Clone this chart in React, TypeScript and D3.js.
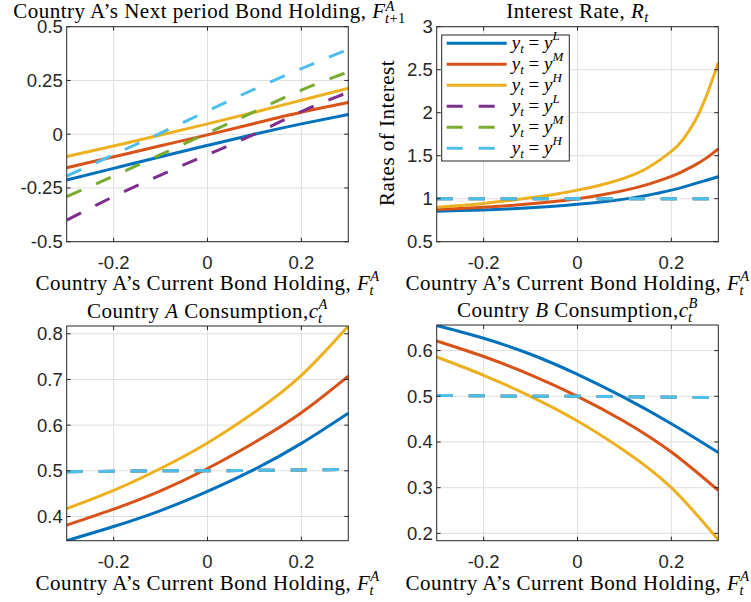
import React from 'react';
import * as d3 from 'd3';

// x grid used by most panels
const xCoarse = [-0.3, -0.2, -0.1, 0, 0.1, 0.2, 0.3];
const xRate = [-0.3, -0.25, -0.2, -0.15, -0.1, -0.05, 0, 0.05, 0.1, 0.15, 0.2, 0.225, 0.25, 0.275, 0.3];

// panel 1: next period bond holding
const bondL = [-0.213, -0.159, -0.105, -0.052, 0.0, 0.048, 0.092];
const bondM = [-0.156, -0.105, -0.054, -0.003, 0.05, 0.102, 0.147];
const bondH = [-0.104, -0.055, -0.004, 0.048, 0.102, 0.158, 0.214];
const bondL2 = [-0.4, -0.29, -0.19, -0.095, 0.0, 0.105, 0.195];
const bondM2 = [-0.29, -0.195, -0.095, 0.005, 0.105, 0.205, 0.29];
const bondH2 = [-0.195, -0.095, 0.005, 0.108, 0.21, 0.305, 0.395];

// panel 2: interest rate
const rateL = [0.855, 0.862, 0.87, 0.881, 0.895, 0.913, 0.935, 0.962, 0.995, 1.04, 1.1, 1.135, 1.175, 1.215, 1.255];
const rateM = [0.875, 0.886, 0.9, 0.918, 0.94, 0.967, 1.0, 1.043, 1.097, 1.167, 1.26, 1.32, 1.39, 1.475, 1.58];
const rateH = [0.9, 0.92, 0.945, 0.975, 1.01, 1.05, 1.1, 1.16, 1.24, 1.36, 1.55, 1.69, 1.9, 2.2, 2.58];
const rateFlat = [1, 1, 1, 1, 1, 1, 1, 1, 1, 1, 1, 1, 1, 1, 1];

// panel 3: country A consumption
const cAL = [0.347, 0.378, 0.413, 0.455, 0.503, 0.56, 0.626];
const cAM = [0.381, 0.416, 0.456, 0.505, 0.562, 0.627, 0.707];
const cAH = [0.417, 0.457, 0.505, 0.561, 0.628, 0.709, 0.817];
const cAFlat = [0.498, 0.499, 0.5, 0.5, 0.501, 0.502, 0.503];

// panel 4: country B consumption
const cBL = [0.655, 0.627, 0.592, 0.548, 0.497, 0.44, 0.377];
const cBM = [0.621, 0.587, 0.547, 0.5, 0.445, 0.378, 0.294];
const cBH = [0.586, 0.546, 0.5, 0.446, 0.381, 0.3, 0.186];
const cBFlat = [0.502, 0.501, 0.5, 0.5, 0.499, 0.498, 0.497];

const xTicks = [-0.2, 0, 0.2];
const xTickLabels = ['-0.2', '0', '0.2'];
const bondTicks = [-0.5, -0.25, 0, 0.25, 0.5];
const bondTickLabels = ['-0.5', '-0.25', '0', '0.25', '0.5'];
const rateTicks = [0.5, 1, 1.5, 2, 2.5, 3];
const rateTickLabels = ['0.5', '1', '1.5', '2', '2.5', '3'];
const cATicks = [0.4, 0.5, 0.6, 0.7, 0.8];
const cATickLabels = ['0.4', '0.5', '0.6', '0.7', '0.8'];
const cBTicks = [0.2, 0.3, 0.4, 0.5, 0.6];
const cBTickLabels = ['0.2', '0.3', '0.4', '0.5', '0.6'];

const stateLabels = ['L', 'M', 'H', 'L', 'M', 'H'];

const BLUE = '#0072BD';
const RED = '#D95319';
const YELLOW = '#EDB120';
const PURPLE = '#7E2F8E';
const GREEN = '#77AC30';
const CYAN = '#4DBEEE';
const colors = [BLUE, RED, YELLOW, PURPLE, GREEN, CYAN];

const AXIS = '#262626';
const SERIF = '"Liberation Serif", "Times New Roman", serif';
const SANS = '"Liberation Sans", Arial, sans-serif';
const DASH = '16,16';
const LS = 0.5; // letter spacing to mimic the wider LaTeX font
const FS = 21;
const SS = 14.5;

type Series = { xs: number[]; ys: number[]; color: string; dashed: boolean };

type PanelProps = {
  id: string;
  left: number;
  right: number;
  top: number;
  bottom: number;
  yDomain: [number, number];
  yTicks: number[];
  yTickLabels: string[];
  series: Series[];
};

function Panel({ id, left, right, top, bottom, yDomain, yTicks, yTickLabels, series }: PanelProps) {
  const x = d3.scaleLinear().domain([-0.3, 0.3]).range([left, right]);
  const y = d3.scaleLinear().domain(yDomain).range([bottom, top]);
  const tl = 4;
  const line = d3
    .line<[number, number]>()
    .x((d) => x(d[0]))
    .y((d) => y(d[1]))
    .curve(d3.curveNatural);
  return (
    <g>
      <defs>
        <clipPath id={id}>
          <rect x={left} y={top} width={right - left} height={bottom - top} />
        </clipPath>
      </defs>
      <rect x={left} y={top} width={right - left} height={bottom - top} fill="#fff" />
      {xTicks.map((t) => (
        <line key={'gx' + t} x1={x(t)} x2={x(t)} y1={top} y2={bottom} stroke="#dfdfdf" strokeWidth={1} />
      ))}
      {yTicks.map((t) => (
        <line key={'gy' + t} x1={left} x2={right} y1={y(t)} y2={y(t)} stroke="#dfdfdf" strokeWidth={1} />
      ))}
      <g clipPath={`url(#${id})`}>
        {series.map((s, i) => {
          const pts = s.xs.map((v, j) => [v, s.ys[j]] as [number, number]);
          return (
            <path
              key={i}
              d={line(pts) || ''}
              fill="none"
              stroke={s.color}
              strokeWidth={3}
              strokeDasharray={s.dashed ? DASH : undefined}
            />
          );
        })}
      </g>
      {xTicks.map((t) => (
        <g key={'tx' + t}>
          <line x1={x(t)} x2={x(t)} y1={bottom} y2={bottom - tl} stroke={AXIS} />
          <line x1={x(t)} x2={x(t)} y1={top} y2={top + tl} stroke={AXIS} />
        </g>
      ))}
      {yTicks.map((t) => (
        <g key={'ty' + t}>
          <line x1={left} x2={left + tl} y1={y(t)} y2={y(t)} stroke={AXIS} />
          <line x1={right} x2={right - tl} y1={y(t)} y2={y(t)} stroke={AXIS} />
        </g>
      ))}
      <rect x={left} y={top} width={right - left} height={bottom - top} fill="none" stroke={AXIS} strokeWidth={1} />
      {xTicks.map((t, i) => (
        <text key={'lx' + t} x={x(t)} y={bottom + 27.5} textAnchor="middle" fontFamily={SANS} fontSize={18.5} fill={AXIS}>
          {xTickLabels[i]}
        </text>
      ))}
      {yTicks.map((t, i) => (
        <text key={'ly' + t} x={left - 4} y={y(t) + 6.5} textAnchor="end" fontFamily={SANS} fontSize={18.5} fill={AXIS}>
          {yTickLabels[i]}
        </text>
      ))}
    </g>
  );
}

function XLabel({ cx, y }: { cx: number; y: number }) {
  return (
    <text x={cx} y={y} textAnchor="middle" fontFamily={SERIF} fontSize={FS} letterSpacing={LS} fill="#000">
      Country A’s Current Bond Holding, <tspan fontStyle="italic">F</tspan>
      <tspan fontSize={SS} dy={-9} fontStyle="italic">A</tspan>
      <tspan fontSize={SS} dx={-10} dy={14} fontStyle="italic">t</tspan>
    </text>
  );
}

function Legend({ x0, y0 }: { x0: number; y0: number }) {
  const rowH = 21;
  return (
    <g>
      <rect x={x0} y={y0} width={127.6} height={126} fill="#fff" stroke={AXIS} strokeWidth={1} />
      {stateLabels.map((s, i) => {
        const yy = y0 + 8.3 + i * rowH;
        return (
          <g key={i}>
            <line
              x1={x0 + 5}
              x2={x0 + 65}
              y1={yy}
              y2={yy}
              stroke={colors[i]}
              strokeWidth={3}
              strokeDasharray={i >= 3 ? DASH : undefined}
            />
            <text x={x0 + 70} y={yy + 6} fontFamily={SERIF} fontSize={19} fill="#000">
              <tspan fontStyle="italic">y</tspan>
              <tspan fontSize={13} dy={4} fontStyle="italic">t</tspan>
              <tspan dy={-4}> = </tspan>
              <tspan fontStyle="italic">y</tspan>
              <tspan fontSize={13} dy={-9} fontStyle="italic">{s}</tspan>
            </text>
          </g>
        );
      })}
    </g>
  );
}

export default function App() {
  const L1 = 66.7;
  const R1 = 348.3;
  const L2 = 436.7;
  const R2 = 718.3;
  const T1 = 26.7;
  const B1 = 241.7;
  const T2 = 326;
  const B2 = 540.7;
  const c1 = (L1 + R1) / 2;
  const c2 = (L2 + R2) / 2;

  const mk = (xs: number[], list: number[][]): Series[] =>
    list.map((ys, i) => ({ xs, ys, color: colors[i], dashed: i >= 3 }));

  return (
    <svg width={751} height={602} style={{ position: 'absolute', left: 0, top: 0, background: '#fff' }}>
      <rect x={0} y={0} width={751} height={602} fill="#fff" />
      <Panel
        id="p1"
        left={L1}
        right={R1}
        top={T1}
        bottom={B1}
        yDomain={[-0.5, 0.5]}
        yTicks={bondTicks}
        yTickLabels={bondTickLabels}
        series={mk(xCoarse, [bondL, bondM, bondH, bondL2, bondM2, bondH2])}
      />
      <Panel
        id="p2"
        left={L2}
        right={R2}
        top={T1}
        bottom={B1}
        yDomain={[0.5, 3]}
        yTicks={rateTicks}
        yTickLabels={rateTickLabels}
        series={mk(xRate, [rateL, rateM, rateH, rateFlat, rateFlat, rateFlat])}
      />
      <Panel
        id="p3"
        left={L1}
        right={R1}
        top={T2}
        bottom={B2}
        yDomain={[0.347, 0.817]}
        yTicks={cATicks}
        yTickLabels={cATickLabels}
        series={mk(xCoarse, [cAL, cAM, cAH, cAFlat, cAFlat, cAFlat])}
      />
      <Panel
        id="p4"
        left={L2}
        right={R2}
        top={T2 - 1}
        bottom={B2}
        yDomain={[0.184, 0.656]}
        yTicks={cBTicks}
        yTickLabels={cBTickLabels}
        series={mk(xCoarse, [cBL, cBM, cBH, cBFlat, cBFlat, cBFlat])}
      />
      <Legend x0={441.7} y0={35} />

      {/* titles */}
      <text x={c1 + 2} y={18} textAnchor="middle" fontFamily={SERIF} fontSize={FS} letterSpacing={LS} fill="#000">
        Country A’s Next period Bond Holding, <tspan fontStyle="italic">F</tspan>
        <tspan fontSize={SS} dy={-7.5} fontStyle="italic">A</tspan>
        <tspan fontSize={SS} dx={-10} dy={12.5} fontStyle="italic">t</tspan>
        <tspan fontSize={SS}>+1</tspan>
      </text>
      <text x={c2} y={18} textAnchor="middle" fontFamily={SERIF} fontSize={FS} letterSpacing={LS} fill="#000">
        Interest Rate, <tspan fontStyle="italic">R</tspan>
        <tspan fontSize={SS} dy={4} fontStyle="italic">t</tspan>
      </text>
      <text x={c1} y={318} textAnchor="middle" fontFamily={SERIF} fontSize={FS} letterSpacing={LS} fill="#000">
        Country <tspan fontStyle="italic">A</tspan> Consumption,<tspan fontStyle="italic">c</tspan>
        <tspan fontSize={SS} dy={-9} fontStyle="italic">A</tspan>
        <tspan fontSize={SS} dx={-10} dy={14} fontStyle="italic">t</tspan>
      </text>
      <text x={c2} y={317} textAnchor="middle" fontFamily={SERIF} fontSize={FS} letterSpacing={LS} fill="#000">
        Country <tspan fontStyle="italic">B</tspan> Consumption,<tspan fontStyle="italic">c</tspan>
        <tspan fontSize={SS} dy={-9} fontStyle="italic">B</tspan>
        <tspan fontSize={SS} dx={-10} dy={14} fontStyle="italic">t</tspan>
      </text>

      <XLabel cx={c1} y={290} />
      <XLabel cx={c2} y={290} />
      <XLabel cx={c1} y={590} />
      <XLabel cx={c2} y={590} />

      <text
        transform={`translate(394, 133) rotate(-90)`}
        textAnchor="middle"
        fontFamily={SERIF}
        fontSize={FS}
        letterSpacing={LS}
        fill="#000"
      >
        Rates of Interest
      </text>
    </svg>
  );
}
